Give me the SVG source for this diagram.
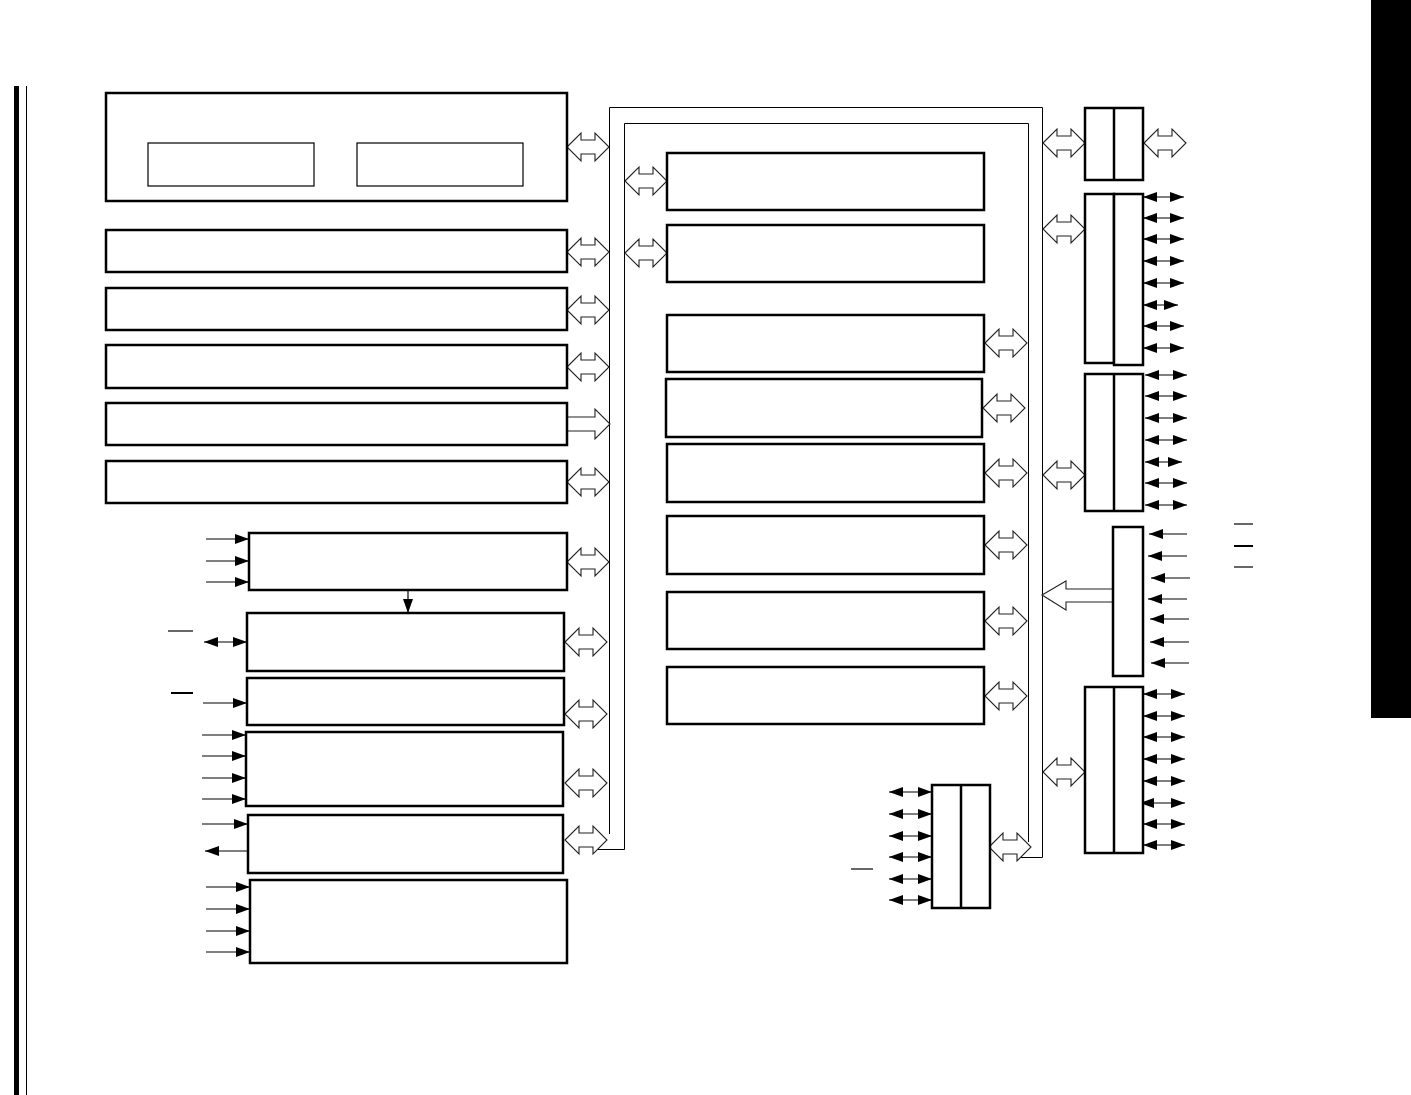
<svg xmlns="http://www.w3.org/2000/svg" width="1411" height="1095" viewBox="0 0 1411 1095">
<style>
.b{fill:#fff;stroke:#000;stroke-width:2.5}
.bi{fill:#fff;stroke:#000;stroke-width:1.2}
.bus{fill:none;stroke:#000;stroke-width:1}
.h{fill:#fff;stroke:#222;stroke-width:1.1}
.sa{stroke:#000;stroke-width:1.2;fill:none;marker-end:url(#ah)}
.sb{stroke:#000;stroke-width:1.2;fill:none;marker-start:url(#ah);marker-end:url(#ah)}
.ob{stroke:#000;stroke-width:1.2}
</style>
<defs>
<marker id="ah" viewBox="0 0 14 10" refX="14" refY="5" markerWidth="14" markerHeight="10" markerUnits="userSpaceOnUse" orient="auto-start-reverse"><path d="M0,0 L14,5 L0,10 Z" fill="#000"/></marker>
<path id="da" d="M0,0 L14,-14 L14,-7 L28,-7 L28,-14 L42,0 L28,14 L28,7 L14,7 L14,14 Z"/>
</defs>
<rect width="1411" height="1095" fill="#fff"/>
<rect x="14" y="86" width="5" height="1009" fill="#000"/>
<line x1="26.5" y1="86" x2="26.5" y2="1095" stroke="#000" stroke-width="1"/>
<rect x="1371" y="0" width="40" height="718" fill="#000"/>

<g id="connectors">
<path class="bus" d="M609.5,834 L609.5,107.5 L1042.5,107.5 L1042.5,857.5 L1020,857.5"/>
<path class="bus" d="M598,849.5 L624.5,849.5 L624.5,123.5 L1028.5,123.5 L1028.5,842"/>
<use href="#da" class="h" x="567" y="147"/>
<use href="#da" class="h" x="567" y="252"/>
<use href="#da" class="h" x="567" y="310"/>
<use href="#da" class="h" x="567" y="367"/>
<path class="h" d="M567,417 L595,417 L595,409 L610,424 L595,439 L595,431 L567,431"/>
<use href="#da" class="h" x="567" y="482"/>
<use href="#da" class="h" x="567" y="562"/>
<use href="#da" class="h" x="565" y="642"/>
<use href="#da" class="h" x="565" y="714"/>
<use href="#da" class="h" x="565" y="783"/>
<use href="#da" class="h" x="565" y="840"/>
<use href="#da" class="h" x="625" y="181"/>
<use href="#da" class="h" x="625" y="253"/>
<use href="#da" class="h" x="985" y="343"/>
<use href="#da" class="h" x="983" y="408"/>
<use href="#da" class="h" x="985" y="473"/>
<use href="#da" class="h" x="985" y="545"/>
<use href="#da" class="h" x="985" y="621"/>
<use href="#da" class="h" x="985" y="696"/>
<use href="#da" class="h" x="989" y="847"/>
<use href="#da" class="h" x="1043" y="143"/>
<use href="#da" class="h" x="1144" y="143"/>
<use href="#da" class="h" x="1043" y="229"/>
<use href="#da" class="h" x="1043" y="475"/>
<use href="#da" class="h" x="1043" y="772"/>
<path class="h" d="M1113,589 L1066,589 L1066,581 L1042,595 L1066,610 L1066,602 L1113,602"/>
<line class="sa" x1="206" y1="539" x2="249" y2="539"/>
<line class="sa" x1="206" y1="561" x2="249" y2="561"/>
<line class="sa" x1="206" y1="582" x2="249" y2="582"/>
<line class="sa" x1="408" y1="590" x2="408" y2="613"/>
<line class="sb" x1="204" y1="642" x2="247" y2="642"/>
<line class="ob" x1="168" y1="631" x2="193" y2="631"/>
<line class="sa" x1="203" y1="703" x2="247" y2="703"/>
<line x1="171" y1="693" x2="193" y2="693" stroke="#000" stroke-width="2"/>
<line class="sa" x1="202" y1="735" x2="246" y2="735"/>
<line class="sa" x1="202" y1="756" x2="246" y2="756"/>
<line class="sa" x1="202" y1="778" x2="246" y2="778"/>
<line class="sa" x1="202" y1="799" x2="246" y2="799"/>
<line class="sa" x1="202" y1="824" x2="248" y2="824"/>
<line class="sa" x1="248" y1="851" x2="205" y2="851"/>
<line class="sa" x1="206" y1="887" x2="250" y2="887"/>
<line class="sa" x1="206" y1="909" x2="250" y2="909"/>
<line class="sa" x1="206" y1="931" x2="250" y2="931"/>
<line class="sa" x1="206" y1="952" x2="250" y2="952"/>
<line class="sb" x1="1143" y1="197" x2="1184" y2="197"/>
<line class="sb" x1="1143" y1="218" x2="1184" y2="218"/>
<line class="sb" x1="1143" y1="239" x2="1184" y2="239"/>
<line class="sb" x1="1143" y1="261" x2="1184" y2="261"/>
<line class="sb" x1="1143" y1="283" x2="1184" y2="283"/>
<line class="sb" x1="1143" y1="305" x2="1178" y2="305"/>
<line class="sb" x1="1143" y1="326" x2="1184" y2="326"/>
<line class="sb" x1="1143" y1="348" x2="1184" y2="348"/>
<line class="sb" x1="1145" y1="375" x2="1187" y2="375"/>
<line class="sb" x1="1145" y1="396" x2="1187" y2="396"/>
<line class="sb" x1="1145" y1="418" x2="1187" y2="418"/>
<line class="sb" x1="1145" y1="440" x2="1187" y2="440"/>
<line class="sb" x1="1145" y1="462" x2="1182" y2="462"/>
<line class="sb" x1="1145" y1="483" x2="1187" y2="483"/>
<line class="sb" x1="1145" y1="505" x2="1187" y2="505"/>
<line class="sa" x1="1187" y1="534" x2="1149" y2="534"/>
<line class="sa" x1="1187" y1="556" x2="1148" y2="556"/>
<line class="sa" x1="1190" y1="578" x2="1151" y2="578"/>
<line class="sa" x1="1187" y1="599" x2="1148" y2="599"/>
<line class="sa" x1="1189" y1="619" x2="1150" y2="619"/>
<line class="sa" x1="1189" y1="642" x2="1150" y2="642"/>
<line class="sa" x1="1189" y1="663" x2="1151" y2="663"/>
<line class="ob" x1="1234" y1="524" x2="1253" y2="524"/>
<line x1="1234" y1="546" x2="1253" y2="546" stroke="#000" stroke-width="2"/>
<line class="ob" x1="1234" y1="567" x2="1253" y2="567"/>
<line class="sb" x1="1143" y1="694" x2="1185" y2="694"/>
<line class="sb" x1="1143" y1="716" x2="1185" y2="716"/>
<line class="sb" x1="1143" y1="737" x2="1185" y2="737"/>
<line class="sb" x1="1143" y1="759" x2="1185" y2="759"/>
<line class="sb" x1="1143" y1="781" x2="1185" y2="781"/>
<line class="sb" x1="1140" y1="803" x2="1185" y2="803"/>
<line class="sb" x1="1143" y1="824" x2="1185" y2="824"/>
<line class="sb" x1="1143" y1="845" x2="1185" y2="845"/>
<line class="sb" x1="889" y1="792" x2="932" y2="792"/>
<line class="sb" x1="889" y1="814" x2="932" y2="814"/>
<line class="sb" x1="889" y1="836" x2="932" y2="836"/>
<line class="sb" x1="889" y1="857" x2="932" y2="857"/>
<line class="sb" x1="889" y1="879" x2="932" y2="879"/>
<line class="sb" x1="889" y1="900" x2="932" y2="900"/>
<line class="ob" x1="851" y1="869" x2="873" y2="869"/>
</g>

<g id="n1"><rect class="b" x="106" y="93" width="461" height="108"/>
<rect class="bi" x="148" y="143" width="166" height="43"/>
<rect class="bi" x="357" y="143" width="166" height="43"/></g>
<g id="n2"><rect class="b" x="106" y="230" width="461" height="42"/></g>
<g id="n3"><rect class="b" x="106" y="288" width="461" height="42"/></g>
<g id="n4"><rect class="b" x="106" y="345" width="461" height="43"/></g>
<g id="n5"><rect class="b" x="106" y="403" width="461" height="42"/></g>
<g id="n6"><rect class="b" x="106" y="461" width="461" height="42"/></g>
<g id="n7"><rect class="b" x="249" y="533" width="318" height="57"/></g>
<g id="n8"><rect class="b" x="247" y="613" width="317" height="58"/></g>
<g id="n9"><rect class="b" x="247" y="678" width="317" height="47"/></g>
<g id="n10"><rect class="b" x="246" y="732" width="317" height="74"/></g>
<g id="n11"><rect class="b" x="248" y="815" width="315" height="58"/></g>
<g id="n12"><rect class="b" x="250" y="880" width="317" height="83"/></g>
<g id="m1"><rect class="b" x="667" y="153" width="317" height="57"/></g>
<g id="m2"><rect class="b" x="667" y="225" width="317" height="57"/></g>
<g id="m3"><rect class="b" x="667" y="315" width="317" height="57"/></g>
<g id="m4"><rect class="b" x="666" y="379" width="316" height="58"/></g>
<g id="m5"><rect class="b" x="667" y="444" width="317" height="58"/></g>
<g id="m6"><rect class="b" x="667" y="516" width="317" height="58"/></g>
<g id="m7"><rect class="b" x="667" y="592" width="317" height="57"/></g>
<g id="m8"><rect class="b" x="667" y="667" width="317" height="57"/></g>
<g id="r1"><rect class="b" x="1085" y="108" width="58" height="72"/><line class="b" x1="1114" y1="108" x2="1114" y2="180"/></g>
<g id="r2"><rect class="b" x="1085" y="194" width="29" height="169"/><rect class="b" x="1114" y="194" width="29" height="171"/></g>
<g id="r3"><rect class="b" x="1085" y="374" width="58" height="137"/><line class="b" x1="1114" y1="374" x2="1114" y2="511"/></g>
<g id="r4"><rect class="b" x="1113" y="527" width="30" height="149"/></g>
<g id="r5"><rect class="b" x="1085" y="687" width="58" height="166"/><line class="b" x1="1114" y1="687" x2="1114" y2="853"/></g>
<g id="r6"><rect class="b" x="932" y="785" width="58" height="123"/><line class="b" x1="961" y1="785" x2="961" y2="908"/></g>
</svg>
